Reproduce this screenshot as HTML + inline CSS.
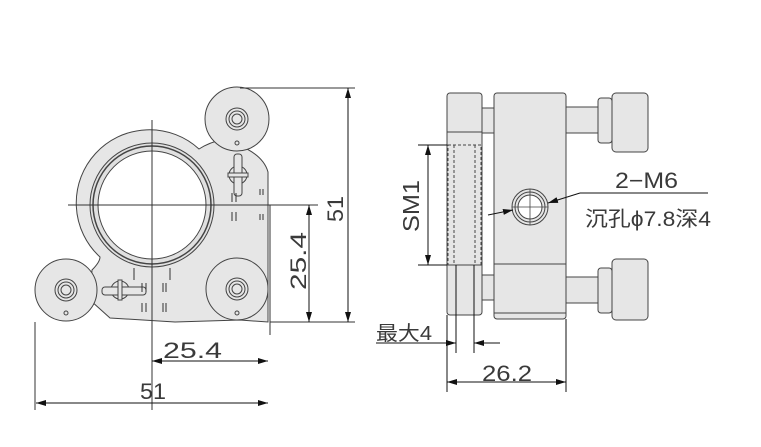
<!DOCTYPE html>
<html><head><meta charset="utf-8"><style>
html,body{margin:0;padding:0;background:#fff}
svg{display:block}
text{font-family:"Liberation Sans","Noto Sans CJK SC",sans-serif;fill:#3a3a3a}
</style></head><body>
<svg width="761" height="447" viewBox="0 0 761 447" xmlns="http://www.w3.org/2000/svg">
<defs>
<marker id="a" viewBox="0 0 10 6" refX="10" refY="3" markerWidth="10" markerHeight="6" orient="auto-start-reverse" markerUnits="userSpaceOnUse"><path d="M0,0L10,3L0,6z" fill="#111"/></marker>
</defs>
<g stroke="#444" stroke-width="1" fill="#e6e6e6">
<path d="M199,149 Q210,142 222,140 Q262,150 268,172 L268,322 L240,320 L175,322 L110,318 L90,300 L92,270 Q100,262 100,257 A73,73 0 1 1 199,149 Z"/>
<circle cx="152" cy="205" r="62" fill="#e0e0e0"/>
<circle cx="152" cy="205" r="59" fill="none" stroke-width="1.5"/>
<circle cx="152" cy="205" r="54" fill="#fff"/>
<circle cx="237" cy="119" r="32"/>
<circle cx="237" cy="119" r="11" fill="none"/><circle cx="237" cy="119" r="8" fill="none"/><circle cx="237" cy="119" r="5"/>
<circle cx="237" cy="143" r="2" fill="none"/>
<circle cx="66" cy="290" r="31"/>
<circle cx="66" cy="290" r="11" fill="none"/><circle cx="66" cy="290" r="8" fill="none"/><circle cx="66" cy="290" r="5"/>
<circle cx="66" cy="313" r="2" fill="none"/>
<circle cx="237" cy="289" r="31"/>
<circle cx="237" cy="289" r="11" fill="none"/><circle cx="237" cy="289" r="8" fill="none"/><circle cx="237" cy="289" r="5"/>
<circle cx="237" cy="313" r="2" fill="none"/>
<circle cx="238" cy="175" r="9" fill="none"/>
<rect x="234" y="154" width="8" height="42" rx="3"/>
<rect x="228" y="173" width="20" height="4"/>
<circle cx="120" cy="290" r="9" fill="none"/>
<rect x="102" y="287" width="44" height="8" rx="3"/>
<rect x="118" y="280" width="4" height="20"/>
</g>
<g stroke="#333" stroke-width="1" fill="none">
<path d="M232,193v9M236,193v9M260,189v6M263,189v6M232,212v9M236,212v9M260,214v6M263,214v6M142,283v9M146,283v9M163,283v9M166,283v9M142,303v9M146,303v9M163,303v9M166,303v9M134,268v12M170,268v12"/>
<path d="M68,205H318M152,120V410M270,205V335"/>
<path d="M240,88H355M270,322H355M35,322V410"/>
</g>
<g stroke="#111" stroke-width="1" fill="none">
<line x1="348" y1="88" x2="348" y2="322" marker-start="url(#a)" marker-end="url(#a)"/>
<line x1="309" y1="205" x2="309" y2="322" marker-start="url(#a)" marker-end="url(#a)"/>
<line x1="152" y1="361" x2="268" y2="361" marker-start="url(#a)" marker-end="url(#a)"/>
<line x1="36" y1="403" x2="268" y2="403" marker-start="url(#a)" marker-end="url(#a)"/>
</g>
<text x="163" y="358" font-size="22" textLength="59" lengthAdjust="spacingAndGlyphs">25.4</text>
<text x="140" y="399" font-size="22" textLength="26" lengthAdjust="spacingAndGlyphs">51</text>
<text transform="translate(343,222) rotate(-90)" font-size="22" textLength="26" lengthAdjust="spacingAndGlyphs">51</text>
<text transform="translate(306,290) rotate(-90)" font-size="22" textLength="58" lengthAdjust="spacingAndGlyphs">25.4</text>
<text x="482" y="381" font-size="22" textLength="50" lengthAdjust="spacingAndGlyphs">26.2</text>
<g stroke="#444" stroke-width="1" fill="#e6e6e6">
<rect x="447" y="93" width="35" height="222" rx="3"/>
<rect x="482" y="108" width="12" height="25"/>
<rect x="482" y="275" width="12" height="25"/>
<rect x="494" y="93" width="72" height="226" rx="3"/>
<rect x="566" y="107" width="32" height="26"/>
<rect x="598" y="98" width="14" height="45" rx="3"/>
<rect x="612" y="93" width="36" height="59" rx="4"/>
<rect x="566" y="277" width="32" height="26"/>
<rect x="598" y="268" width="14" height="45" rx="3"/>
<rect x="612" y="259" width="36" height="61" rx="4"/>
<circle cx="530" cy="207" r="18" fill="none"/>
<circle cx="530" cy="207" r="15" fill="none"/>
<circle cx="530" cy="207" r="12" fill="#fff"/>
</g>
<g stroke="#444" fill="none">
<path d="M447,132H482M447,265H482M494,264H566M494,313H566"/>
<rect x="448" y="145" width="33" height="120" stroke-dasharray="3,2"/>
<path d="M454,145V265M475,145V265" stroke-dasharray="3,2"/>
<path d="M512,207H548M530,189V225" stroke-width="0.8"/>
</g>
<g stroke="#111" fill="none">
<path d="M418,145H447M418,265H447M447,315V392M566,319V392M456,265V353M474,265V353M376,343H447M474,343H500M580,193H708"/>
<line x1="428" y1="145" x2="428" y2="265" marker-start="url(#a)" marker-end="url(#a)"/>
<line x1="447" y1="382" x2="566" y2="382" marker-start="url(#a)" marker-end="url(#a)"/>
<line x1="430" y1="343" x2="456" y2="343" marker-end="url(#a)"/>
<line x1="492" y1="343" x2="474" y2="343" marker-end="url(#a)"/>
<line x1="488" y1="215" x2="513" y2="210" marker-end="url(#a)"/>
<line x1="580" y1="193" x2="548" y2="203" marker-end="url(#a)"/>
</g>
<text x="376" y="340" font-size="20" textLength="56" lengthAdjust="spacingAndGlyphs">最大4</text>
<text x="615" y="188" font-size="22" textLength="63" lengthAdjust="spacingAndGlyphs">2−M6</text>
<text x="585" y="226" font-size="21" textLength="126" lengthAdjust="spacingAndGlyphs">沉孔ϕ7.8深4</text>
<text transform="translate(419,232) rotate(-90)" font-size="23" textLength="52" lengthAdjust="spacingAndGlyphs">SM1</text>
</svg>
</body></html>
